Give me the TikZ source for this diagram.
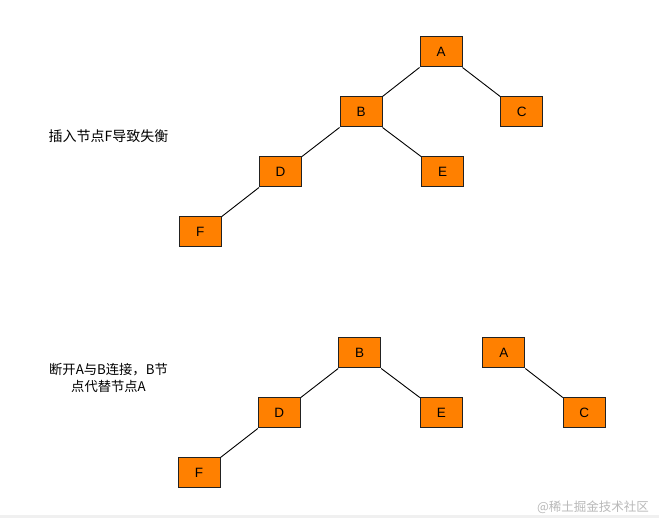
\documentclass[tikz,border=0pt]{standalone}
\usepackage{fontspec}
\setmainfont{Liberation Sans}
\newfontfamily\cjk{Noto Sans CJK SC}
\definecolor{boxfill}{HTML}{FF8000}
\definecolor{boxline}{HTML}{222222}
\begin{document}
\begin{tikzpicture}[x=1pt,y=-1pt,
  treebox/.style={draw=boxline,fill=boxfill,line width=1pt,minimum width=42pt,minimum height=30pt,inner sep=0pt,font=\fontsize{13.5}{15}\selectfont},
  link/.style={draw=black,line width=0.9pt},
  note/.style={font=\cjk\fontsize{14}{18}\selectfont,align=center,inner sep=0pt}]
\useasboundingbox (0,0) rectangle (659,518);
\fill[white] (0,0) rectangle (659,518);
\fill[gray!12] (0,515) rectangle (659,518);
% top tree
\node[treebox] (tA) at (441,52) {A};
\node[treebox] (tB) at (361,112) {B};
\node[treebox] (tC) at (521.7,112) {C};
\node[treebox] (tD) at (280.5,172) {D};
\node[treebox] (tE) at (442.5,172) {E};
\node[treebox] (tF) at (200.3,232) {F};
\draw[link] (tA.south west) -- (tB.north east);
\draw[link] (tA.south east) -- (tC.north west);
\draw[link] (tB.south west) -- (tD.north east);
\draw[link] (tB.south east) -- (tE.north west);
\draw[link] (tD.south west) -- (tF.north east);
\node[note] (n1) at (108.5,136.5) {插入节点F导致失衡};
% bottom trees
\node[treebox] (bB) at (359.7,353) {B};
\node[treebox] (bA) at (503.8,353) {A};
\node[treebox] (bD) at (279.3,413) {D};
\node[treebox] (bE) at (441.3,413) {E};
\node[treebox] (bC) at (584.3,413) {C};
\node[treebox] (bF) at (199,473) {F};
\draw[link] (bB.south west) -- (bD.north east);
\draw[link] (bB.south east) -- (bE.north west);
\draw[link] (bA.south east) -- (bC.north west);
\draw[link] (bD.south west) -- (bF.north east);
\node[note,font=\cjk\fontsize{13.3}{17.5}\selectfont] (n2) at (108.5,378) {断开A与B连接，B节\\点代替节点A};
\node[font=\cjk\fontsize{12.5}{14}\selectfont,text=gray!55,inner sep=0pt] (wm) at (593,507) {@稀土掘金技术社区};
\end{tikzpicture}
\end{document}
